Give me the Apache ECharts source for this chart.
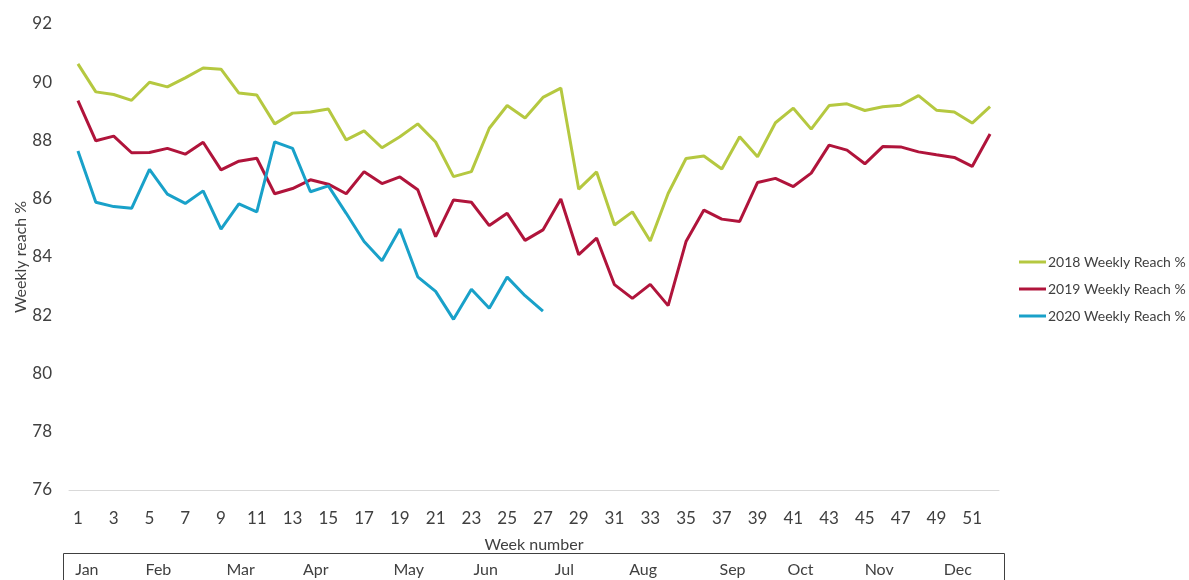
<!DOCTYPE html>
<html>
<head>
<meta charset="utf-8">
<script src="https://cdn.jsdelivr.net/npm/echarts@6/dist/echarts.min.js"></script>
<style>html,body{margin:0;padding:0;background:#fff}#c{width:1189px;height:580px}</style>
</head>
<body>
<div id="c"></div>
<script>
const weeks = Array.from({length: 52}, (_, i) => String(i + 1));
const reach2018 = [90.63,89.67,89.58,89.38,90.0,89.84,90.15,90.49,90.45,89.63,89.56,88.57,88.94,88.98,89.08,88.02,88.33,87.75,88.13,88.57,87.95,86.76,86.93,88.42,89.2,88.77,89.48,89.8,86.33,86.92,85.1,85.55,84.55,86.18,87.38,87.47,87.02,88.13,87.44,88.61,89.11,88.39,89.2,89.26,89.03,89.16,89.21,89.54,89.04,88.98,88.6,89.16];
const reach2019 = [89.37,87.99,88.15,87.58,87.59,87.73,87.53,87.94,86.99,87.29,87.39,86.17,86.35,86.65,86.5,86.17,86.93,86.52,86.75,86.31,84.7,85.96,85.88,85.08,85.5,84.57,84.93,85.99,84.08,84.65,83.05,82.58,83.06,82.33,84.53,85.61,85.3,85.22,86.56,86.7,86.42,86.88,87.84,87.67,87.2,87.79,87.78,87.61,87.51,87.42,87.11,88.22];
const reach2020 = [87.64,85.88,85.73,85.67,87.01,86.16,85.84,86.27,84.96,85.82,85.55,87.95,87.73,86.24,86.44,85.5,84.53,83.87,84.96,83.32,82.82,81.86,82.89,82.24,83.31,82.67,82.14];
const seriesNames = ['2018 Weekly Reach %', '2019 Weekly Reach %', '2020 Weekly Reach %'];
const months = ['Jan','Feb','Mar','Apr','May','Jun','Jul','Aug','Sep','Oct','Nov','Dec'];
const monthWeekPos = [1.5,5.5,10.1,14.3,19.5,23.8,28.2,32.6,37.6,41.4,45.8,50.2];

const FONT = 'Lato';
const TXT = '#404040';
const chart = echarts.init(document.getElementById('c'));
chart.setOption({
  animation: false,
  textStyle: {fontFamily: FONT},
  grid: {left: 69, right: 190, top: 24, bottom: 90, containLabel: false, outerBoundsMode: 'none'},
  legend: {
    orient: 'vertical', left: 1014, top: 250, itemGap: 13,
    icon: 'rect', itemWidth: 27, itemHeight: 3,
    textStyle: {fontFamily: FONT, fontSize: 14, color: TXT, padding: [0,0,0,-3]},
    data: seriesNames
  },
  xAxis: [{
    type: 'category', data: weeks, boundaryGap: true,
    axisLine: {lineStyle: {color: '#d9d9d9', width: 1}},
    axisTick: {show: false},
    axisLabel: {interval: 1, fontSize: 17, color: TXT, margin: 20, fontFamily: FONT},
    name: 'Week number', nameLocation: 'middle', nameGap: 47, nameMoveOverlap: false,
    nameTextStyle: {fontSize: 16, color: TXT, fontFamily: FONT}
  }, {
    type: 'value', min: 0.5, max: 52.5, position: 'bottom',
    axisLine: {show: false}, axisTick: {show: false}, splitLine: {show: false},
    axisLabel: {
      customValues: monthWeekPos, margin: 72, fontSize: 16, color: TXT, fontFamily: FONT,
      formatter: v => months[monthWeekPos.indexOf(v)]
    }
  }],
  yAxis: {
    type: 'value', min: 76, max: 92, interval: 2,
    axisLine: {show: false}, axisTick: {show: false}, splitLine: {show: false},
    axisLabel: {fontSize: 17, color: TXT, margin: 17, fontFamily: FONT},
    name: 'Weekly reach %', nameLocation: 'middle', nameGap: 40, nameMoveOverlap: false,
    nameTextStyle: {fontSize: 16, color: TXT, fontFamily: FONT}
  },
  series: [
    {name: seriesNames[0], type: 'line', data: reach2018, symbol: 'none', lineStyle: {width: 3, color: '#b5c840'}, itemStyle: {color: '#b5c840'}},
    {name: seriesNames[1], type: 'line', data: reach2019, symbol: 'none', lineStyle: {width: 3, color: '#b0143b'}, itemStyle: {color: '#b0143b'}},
    {name: seriesNames[2], type: 'line', data: reach2020, symbol: 'none', lineStyle: {width: 3, color: '#19a1c9'}, itemStyle: {color: '#19a1c9'}}
  ],
  graphic: [{
    type: 'rect', shape: {x: 63.5, y: 553.5, width: 941, height: 60},
    style: {fill: 'none', stroke: '#404040', lineWidth: 1}, silent: true
  }]
});
</script>
</body>
</html>
